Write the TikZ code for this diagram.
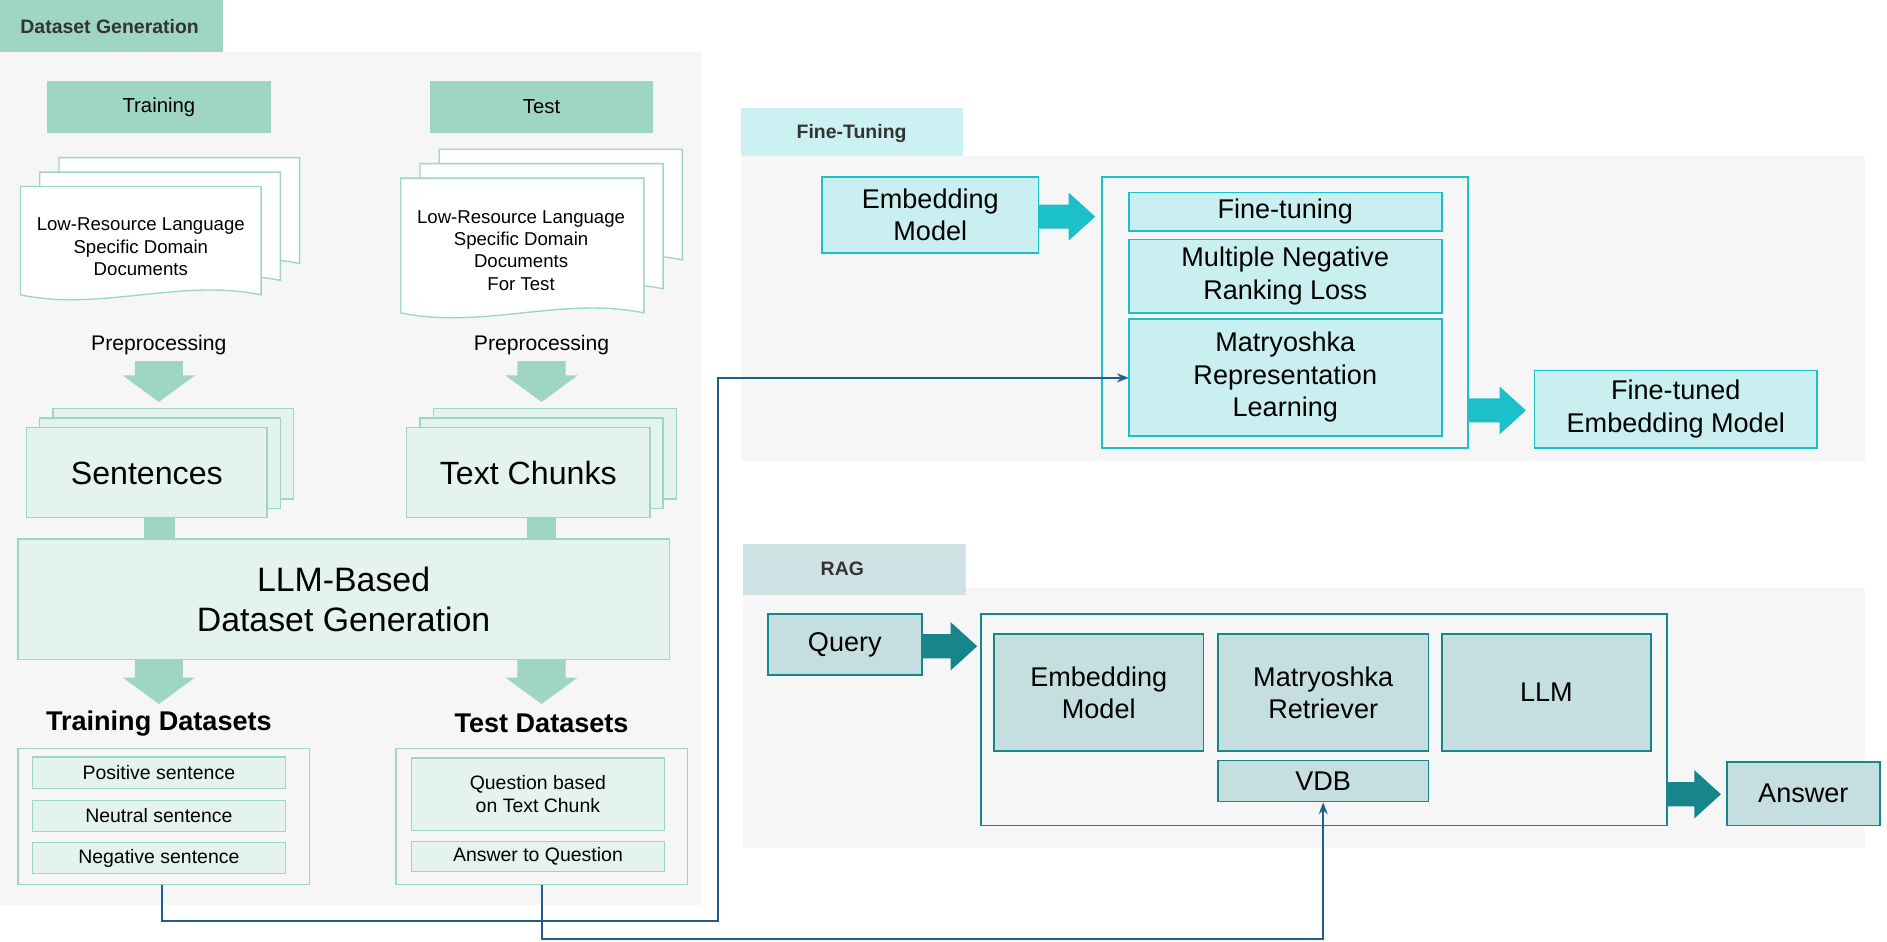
\documentclass[tikz,border=0pt]{standalone}
\usepackage{fontspec}
\setmainfont{Liberation Sans}
\usetikzlibrary{arrows.meta,positioning}
\definecolor{dgHead}{HTML}{9FD5C5}
\definecolor{dgFill}{HTML}{E4F3EE}
\definecolor{dgLine}{HTML}{9ED5C5}
\definecolor{ftHead}{HTML}{CCF1F3}
\definecolor{ftFill}{HTML}{C9EFF1}
\definecolor{ftLine}{HTML}{1CC0C8}
\definecolor{ragHead}{HTML}{CFE3E5}
\definecolor{ragFill}{HTML}{C5DFE1}
\definecolor{ragLine}{HTML}{17868A}
\definecolor{panel}{HTML}{F6F6F6}
\definecolor{link}{HTML}{1F5F8B}
\newcommand{\fs}[1]{\fontsize{#1pt}{\dimexpr #1pt*6/5\relax}\selectfont}
% wavy document sheet: x, y, w, h
\newcommand{\docsheet}[4]{%
  \filldraw[fill=white,draw=dgLine,line width=0.8pt] (#1,#2) -- ++(#3,0) -- ++(0,#4)
    .. controls +(-#3/3,-14) and +(#3/3,14) .. ++(-#3,0) -- cycle;}
% right block arrow: x, y, length, colour
\newcommand{\rarrow}[4]{%
  \fill[#4] (#1,#2-10) -- ++(#3-22,0) -- ++(0,-10) -- (#1+#3,#2) -- (#1+#3-22,#2+20)
    -- ++(0,-10) -- (#1,#2+10) -- cycle;}
% down block arrow: x, y, length
\newcommand{\darrow}[3]{%
  \fill[dgHead] (#1-20,#2) -- ++(0,#3-22) -- ++(-10,0) -- (#1,#2+#3) -- (#1+30,#2+#3-22)
    -- ++(-10,0) -- (#1+20,#2) -- cycle;}
\tikzset{
  dgbox/.style={draw=dgLine,fill=dgFill,line width=0.8pt,align=center,inner sep=0pt},
  ftbox/.style={draw=ftLine,fill=ftFill,line width=1pt,align=center,inner sep=0pt},
  ragbox/.style={draw=ragLine,fill=ragFill,line width=1pt,align=center,inner sep=0pt},
  conn/.style={draw=link,line width=1.2pt,-{Stealth[length=7pt]}},
}
\begin{document}
\begin{tikzpicture}[x=0.025cm,y=-0.025cm]
  \useasboundingbox (0,0) rectangle (1568,782);
  % dataset generation
  \fill[panel] (0,43) rectangle (583,752);
  \fill[dgHead] (0,0) rectangle (185,43);
  \node[anchor=west,font=\fs{11.5}\bfseries,text=black!80] (dghead) at (12,22) {Dataset Generation};
  \node[dgbox,fill=dgHead,draw=none,minimum width=4.65cm,minimum height=1.075cm,font=\fs{12}] (train) at (132,89) {Training};
  \node[dgbox,fill=dgHead,draw=none,minimum width=4.625cm,minimum height=1.075cm,font=\fs{12}] (test) at (450,89) {Test};
  \docsheet{49}{131}{200}{88}
  \docsheet{33}{143}{200}{90}
  \docsheet{17}{155}{200}{90}
  \node[font=\fs{11},align=center] (docs) at (117,205) {Low-Resource Language\\Specific Domain\\Documents};
  \docsheet{365}{124}{202}{92}
  \docsheet{349}{136}{202}{104}
  \docsheet{333}{148}{202}{112}
  \node[font=\fs{11},align=center] (docstest) at (433,208) {Low-Resource Language\\Specific Domain\\Documents\\For Test};
  \node[font=\fs{12.5}] (pre1) at (132,287) {Preprocessing};
  \node[font=\fs{12.5}] (pre2) at (450,287) {Preprocessing};
  \darrow{132}{300}{34}
  \darrow{450}{300}{34}
  \foreach \d in {22,11,0}{
    \filldraw[dgbox] (22+\d,355-\d*0.7) rectangle (222+\d,430-\d*0.7);
    \filldraw[dgbox] (338+\d,355-\d*0.7) rectangle (540+\d,430-\d*0.7);
  }
  \node[font=\fs{19}] (sent) at (122,393) {Sentences};
  \node[font=\fs{19}] (chunks) at (439,393) {Text Chunks};
  \fill[dgHead] (120,430) rectangle (145,448);
  \fill[dgHead] (438,430) rectangle (462,448);
  \node[dgbox,minimum width=13.525cm,minimum height=2.5cm,font=\fs{20}] (llmgen) at (285.5,498) {LLM-Based\\Dataset Generation};
  \darrow{132}{548}{37}
  \darrow{450}{548}{37}
  \node[font=\fs{16}\bfseries] (trainds) at (132,601) {Training Datasets};
  \node[font=\fs{16}\bfseries] (testds) at (450,601) {Test Datasets};
  \node[dgbox,fill=none,minimum width=6.05cm,minimum height=2.825cm] (trainbox) at (136,678.5) {};
  \node[dgbox,fill=none,minimum width=6.05cm,minimum height=2.825cm] (testbox) at (450,678.5) {};
  \foreach \y/\t in {642/Positive sentence,678/Neutral sentence,713/Negative sentence}
    \node[dgbox,minimum width=5.25cm,minimum height=0.65cm,font=\fs{11.5}] at (132,\y) {\t};
  \node[dgbox,minimum width=5.25cm,minimum height=1.5cm,font=\fs{11.5}] (qbox) at (447,660) {Question based\\on Text Chunk};
  \node[dgbox,minimum width=5.25cm,minimum height=0.625cm,font=\fs{11.5}] (abox) at (447,711.5) {Answer to Question};
  % fine-tuning
  \fill[panel] (616,130) rectangle (1550,383);
  \fill[ftHead] (616,90) rectangle (800,130);
  \node[anchor=west,font=\fs{11.5}\bfseries,text=black!80] (fthead) at (657,111) {Fine-Tuning};
  \node[ftbox,minimum width=4.5cm,minimum height=1.575cm,font=\fs{16}] (embft) at (773,178.5) {Embedding\\Model};
  \rarrow{863}{180}{47}{ftLine}
  \node[ftbox,fill=none,minimum width=7.6cm,minimum height=5.625cm] (ftbig) at (1068,259.5) {};
  \node[ftbox,minimum width=6.5cm,minimum height=0.8cm,font=\fs{16}] (finetune) at (1068,176) {Fine-tuning};
  \node[ftbox,minimum width=6.5cm,minimum height=1.525cm,font=\fs{16}] (mnrl) at (1068,229.5) {Multiple Negative\\Ranking Loss};
  \node[ftbox,minimum width=6.5cm,minimum height=2.425cm,font=\fs{16}] (mrl) at (1068,313.5) {Matryoshka\\Representation\\Learning};
  \rarrow{1220}{341}{48}{ftLine}
  \node[ftbox,minimum width=5.875cm,minimum height=1.6cm,font=\fs{16}] (ftemb) at (1392.5,340) {Fine-tuned\\Embedding Model};
  % rag
  \fill[panel] (617,489) rectangle (1550,705);
  \fill[ragHead] (617,452) rectangle (803,494);
  \node[anchor=west,font=\fs{11.5}\bfseries,text=black!80] (raghead) at (677,473) {RAG};
  \node[ragbox,minimum width=3.2cm,minimum height=1.275cm,font=\fs{16}] (query) at (702,535.5) {Query};
  \rarrow{766}{537}{46}{ragLine}
  \node[ragbox,fill=none,minimum width=14.25cm,minimum height=4.4cm] (ragbig) at (1100,598) {};
  \node[ragbox,minimum width=4.35cm,minimum height=2.425cm,font=\fs{16}] (embrag) at (913,575.5) {Embedding\\Model};
  \node[ragbox,minimum width=4.375cm,minimum height=2.425cm,font=\fs{16}] (retr) at (1099.5,575.5) {Matryoshka\\Retriever};
  \node[ragbox,minimum width=4.35cm,minimum height=2.425cm,font=\fs{16}] (llm) at (1285,575.5) {LLM};
  \node[ragbox,minimum width=4.375cm,minimum height=0.85cm,font=\fs{16}] (vdb) at (1099.5,649) {VDB};
  \rarrow{1385}{660}{45}{ragLine}
  \node[ragbox,minimum width=3.175cm,minimum height=1.325cm,font=\fs{16}] (answer) at (1498.5,659.5) {Answer};
  % links
  \coordinate (trainout) at (135,735);
  \coordinate (mrlin) at (938,314);
  \coordinate (bend) at (597,765);
  \draw[conn] (trainout) |- (bend) |- (mrlin);
  \coordinate (bend2) at (1099.5,780);
  \draw[conn] (testbox.south) |- (bend2) -- (vdb.south);
\end{tikzpicture}
\end{document}
